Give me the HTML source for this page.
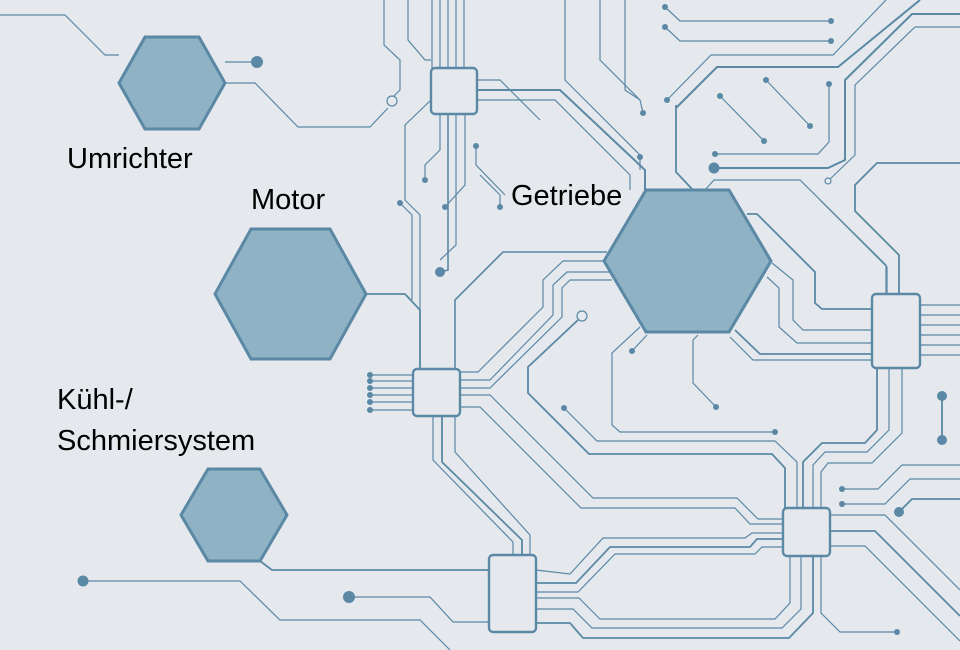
<!DOCTYPE html>
<html><head><meta charset="utf-8"><style>
html,body{margin:0;padding:0;background:#e5e9ed;}
svg{display:block}
text{font-family:"Liberation Sans",sans-serif;font-size:29px;fill:#000}
</style></head><body>
<svg width="960" height="650" viewBox="0 0 960 650" xmlns="http://www.w3.org/2000/svg">
<rect width="960" height="650" fill="#e5e9ed"/>
<g fill="none" stroke="#5a88a5" stroke-width="1.2">
<!-- top-left traces -->
<polyline points="0,15 65,15 105,55 119,55"/>
<polyline points="225,62 257,62"/>
<polyline points="225,83 255,83 298,127 370,127 388,108"/>
<!-- top center -->
<polyline points="384,0 384,45 400,60 400,90 390,100"/>
<polyline points="432,0 432,68"/><polyline points="440,0 440,68"/><polyline points="448,0 448,68"/><polyline points="456,0 456,68"/><polyline points="464,0 464,68"/>
<polyline points="408,0 408,40 425,60 431,60"/>
<polyline points="477,90 560,90 645,170 645,190" stroke-width="2"/>
<polyline points="477,100 555,100 630,175 630,190"/>
<polyline points="477,80 500,80 540,120"/>
<polyline points="431,100 405,125 405,200 420,215 420,369"/>
<polyline points="440,114 440,150 425,165 425,180"/>
<polyline points="448,114 448,270 440,272" stroke-width="1.6"/>
<polyline points="456,114 456,245 440,260"/>
<polyline points="465,114 465,185 445,207"/>
<polyline points="476,146 476,165 505,195"/>
<polyline points="480,175 500,195 500,207"/>
<polyline points="400,203 412,215 412,300"/>
<!-- top right -->
<polyline points="565,0 565,80 640,155 640,170"/>
<polyline points="600,0 600,60 640,100 643,113"/>
<polyline points="625,0 625,90 640,100"/>
<polyline points="665,7 680,21 831,21"/>
<polyline points="665,27 680,41 831,41"/>
<polyline points="667,100 711,55 833,55 886,0"/>
<polyline points="676,105 676,172 693,190" stroke-width="1.8"/>
<polyline points="705,190 714,180 800,180 886,265 886,294"/>
<polyline points="920,0 838,67 717,67 676,108" stroke-width="2"/>
<polyline points="960,14 912,14 845,80 845,160 828,168 715,168" stroke-width="2"/>
<polyline points="960,27 915,27 855,85 855,155 828,181"/>
<polyline points="720,96 764,141"/><polyline points="766,80 810,126"/>
<polyline points="829,84 829,142 818,154 716,154"/>
<polyline points="960,163 877,163 855,185 855,211 899,255 899,294" stroke-width="1.8"/>
<polyline points="820,200 887,267 887,294"/>
<!-- getriebe right traces -->
<polyline points="747,214 757,214 815,272 815,303 822,309 872,309" stroke-width="1.8"/>
<polyline points="772,263 793,280 793,320 803,330 872,330"/>
<polyline points="767,277 779,288 779,327 797,343 872,343"/>
<polyline points="735,330 760,354 872,354" stroke-width="1.8"/>
<polyline points="730,337 753,360 872,360"/>
<polyline points="920,305 960,305"/><polyline points="920,315 960,315"/><polyline points="920,325 960,325"/><polyline points="920,335 960,335"/><polyline points="920,345 960,345"/><polyline points="920,355 960,355"/>
<polyline points="942,396 942,440" stroke-width="1.8"/>
<polyline points="698,335 693,340 693,383 716,407"/>
<polyline points="632,351 647,335"/>
<polyline points="640,327 612,353 612,425 620,432 775,432"/>
<!-- middle connections -->
<polyline points="366,294 405,294 420,310 420,369" stroke-width="1.8"/>
<polyline points="455,369 455,300 503,252 607,252" stroke-width="1.6"/>
<polyline points="460,372 478,372 543,307 543,280 563,261 605,261"/>
<polyline points="460,380 490,380 553,315 553,285 567,272 610,272"/>
<polyline points="460,388 490,388 562,317 562,288 570,280 612,280"/>
<polyline points="460,395 490,395 593,498 737,498 758,519 783,519"/>
<polyline points="460,407 480,407 581,508 735,508 750,524 783,524"/>
<polyline points="578,320 528,367 528,393 589,454 772,454 785,468 785,508" stroke-width="1.8"/>
<polyline points="564,408 597,441 775,441 797,462 797,508"/>
<polyline points="370,375 413,375"/><polyline points="370,381 413,381"/><polyline points="370,388 413,388"/><polyline points="370,395 413,395"/><polyline points="370,402 413,402"/><polyline points="370,410 413,410"/>
<polyline points="433,416 433,460 513,542 513,555"/>
<polyline points="442,416 442,462 522,540 522,555" stroke-width="1.8"/>
<polyline points="455,416 455,452 530,535 530,555"/>
<!-- chip3 bottom -->
<polyline points="877,368 877,430 865,443 822,443 803,462 803,508" stroke-width="1.8"/>
<polyline points="889,368 889,430 867,452 825,452 813,465 813,508"/>
<polyline points="902,368 902,433 872,463 828,463 821,472 821,508"/>
<!-- chip2 right -->
<polyline points="830,515 885,515 960,590"/>
<polyline points="830,531 875,531 960,616" stroke-width="1.8"/>
<polyline points="830,546 865,546 960,641"/>
<polyline points="842,489 878,489 902,465 960,465"/>
<polyline points="842,504 885,504 910,479 960,479"/>
<polyline points="899,512 912,499 960,499" stroke-width="1.8"/>
<polyline points="821,556 821,613 840,632 897,632"/>
<!-- chip2 left / chip1 right -->
<polyline points="536,570 570,574 603,538 745,538 752,533 783,533"/>
<polyline points="536,583 576,583 610,547 750,547 757,539 783,539" stroke-width="1.8"/>
<polyline points="536,592 578,592 615,554 755,554 762,547 783,547"/>
<polyline points="536,598 579,598 600,619 775,619 790,603 790,556"/>
<polyline points="536,609 573,609 592,628 782,628 801,609 801,556"/>
<polyline points="536,623 570,623 583,638 789,638 813,613 813,556" stroke-width="1.8"/>
<!-- bottom left -->
<polyline points="260,561 272,570 489,570" stroke-width="1.8"/>
<polyline points="83,581 240,581 280,620 420,620 450,650"/>
<polyline points="349,597 430,597 453,622 489,622"/>
</g>
<!-- dots -->
<g fill="#5a88a5">
<circle cx="257" cy="62" r="6"/><circle cx="83" cy="581" r="5.5"/><circle cx="349" cy="597" r="6"/>
<circle cx="440" cy="272" r="5"/><circle cx="425" cy="180" r="3"/><circle cx="445" cy="207" r="3"/><circle cx="400" cy="203" r="3"/>
<circle cx="476" cy="146" r="3"/><circle cx="500" cy="207" r="3"/>
<circle cx="665" cy="7" r="3"/><circle cx="665" cy="27" r="3"/><circle cx="831" cy="21" r="3"/><circle cx="831" cy="41" r="3"/>
<circle cx="643" cy="113" r="3"/><circle cx="640" cy="157" r="3"/><circle cx="667" cy="100" r="3"/>
<circle cx="720" cy="96" r="3"/><circle cx="764" cy="141" r="3"/><circle cx="766" cy="80" r="3"/><circle cx="810" cy="126" r="3"/><circle cx="829" cy="84" r="3"/>
<circle cx="715" cy="154" r="3"/><circle cx="714" cy="168" r="5.5"/>
<circle cx="942" cy="396" r="5"/><circle cx="942" cy="440" r="5"/>
<circle cx="716" cy="407" r="3"/><circle cx="632" cy="351" r="3"/><circle cx="564" cy="408" r="3"/><circle cx="775" cy="432" r="3"/>
<circle cx="370" cy="375" r="3"/><circle cx="370" cy="381" r="3"/><circle cx="370" cy="388" r="3"/><circle cx="370" cy="395" r="3"/><circle cx="370" cy="402" r="3"/><circle cx="370" cy="410" r="3"/>
<circle cx="842" cy="489" r="3"/><circle cx="842" cy="504" r="3"/><circle cx="899" cy="512" r="5"/><circle cx="897" cy="632" r="3"/>
</g>
<g fill="#e5e9ed" stroke="#5a88a5" stroke-width="1.2">
<circle cx="392" cy="101" r="5"/><circle cx="582" cy="316" r="5"/><circle cx="828" cy="181" r="3"/>
</g>
<!-- chips -->
<g fill="#e5e9ed" stroke="#5a88a5" stroke-width="2.4">
<rect x="431" y="68" width="46" height="46" rx="4"/>
<rect x="413" y="369" width="47" height="47" rx="4"/>
<rect x="872" y="294" width="48" height="74" rx="4"/>
<rect x="783" y="508" width="47" height="48" rx="4"/>
<rect x="489" y="555" width="47" height="77" rx="4"/>
</g>
<!-- hexagons -->
<g fill="#8fb2c4" stroke="#5a88a5" stroke-width="3">
<polygon points="119,83 145,37 199,37 225,83 199,129 145,129"/>
<polygon points="215,294 251,229 330,229 366,294 330,359 251,359"/>
<polygon points="604,261 646,190 729,190 771,261 729,332 646,332"/>
<polygon points="181,515 208,469 260,469 287,515 260,561 208,561"/>
</g>
<text x="67" y="168">Umrichter</text>
<text x="251" y="209">Motor</text>
<text x="511" y="205">Getriebe</text>
<text x="57" y="409">Kühl-/</text>
<text x="57" y="450">Schmiersystem</text>
</svg>
</body></html>
